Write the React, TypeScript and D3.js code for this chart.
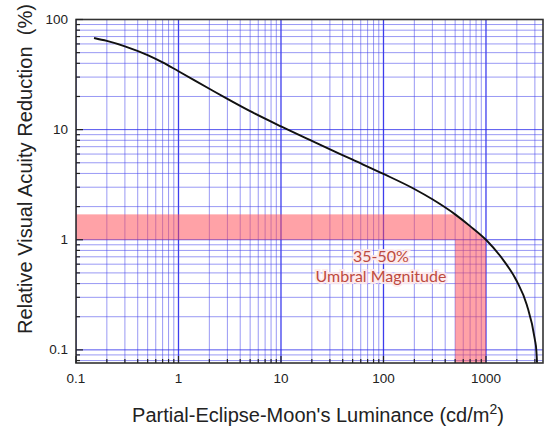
import React from "react";
import * as d3 from "d3";

const luminance = [0.15, 0.2, 0.3, 0.5, 0.7, 1, 2, 3, 5, 10, 20, 50, 100, 200, 300, 500, 700, 1000, 1500, 2000, 2500, 3000, 3100, 3150];
const reduction = [68, 63.9, 57.1, 47.5, 40.8, 33.9, 23.5, 19.0, 14.7, 10.7, 7.9, 5.33, 3.96, 2.89, 2.33, 1.70, 1.33, 1.0, 0.64, 0.42, 0.257, 0.124, 0.099, 0.076];
const xTickLabels = ["0.1", "1", "10", "100", "1000"];
const yTickLabels = ["0.1", "1", "10", "100"];
const xDomain = [0.1, 3600];
const yDomain = [0.076, 100];
const bandX = [500, 1000];
const bandY = [1, 1.7];
const annotation = ["35-50%", "Umbral Magnitude"];

const W = 550, H = 429;
const M = { left: 76, right: 543, top: 19.5, bottom: 363 };

export default function App() {
  const x = d3.scaleLog().domain(xDomain).range([M.left, M.right]);
  const y = d3.scaleLog().domain(yDomain).range([M.bottom, M.top]);

  const xGrid: number[] = [];
  for (let e = -1; e <= 3; e++) for (let k = 1; k <= 9; k++) {
    const v = k * Math.pow(10, e);
    if (v >= xDomain[0] - 1e-9 && v <= xDomain[1]) xGrid.push(+v.toPrecision(3));
  }
  const yGrid: number[] = [];
  for (let e = -2; e <= 2; e++) for (let k = 1; k <= 9; k++) {
    const v = k * Math.pow(10, e);
    if (v >= yDomain[0] && v <= yDomain[1] + 1e-9) yGrid.push(+v.toPrecision(3));
  }
  const isMajor = (v: number) => Math.abs(Math.log10(v) - Math.round(Math.log10(v))) < 1e-6;

  const pts = luminance.map((d, i) => [x(d), y(reduction[i])] as [number, number]);
  const line = d3.line().curve(d3.curveMonotoneX)(pts) || "";
  const under = d3.area().curve(d3.curveMonotoneX).y0(M.bottom + 2)(pts) || "";

  const bandFill = "rgba(255,70,80,0.5)";
  const lab = { fontFamily: "Liberation Sans, Arial, sans-serif", fill: "#222" };

  return (
    <svg width={W} height={H} style={{ position: "absolute", left: 0, top: 0, background: "#fff" }}>
      <defs>
        <clipPath id="under">
          <path d={under} />
          <rect x={M.left} y={M.top} width={pts[0][0] - M.left} height={M.bottom - M.top} />
        </clipPath>
        <clipPath id="plot">
          <rect x={M.left} y={M.top} width={M.right - M.left} height={M.bottom - M.top} />
        </clipPath>
      </defs>
      {/* grid */}
      <g clipPath="url(#plot)">
        {xGrid.map((v) => (
          <line key={"gx" + v} x1={x(v)} x2={x(v)} y1={M.top} y2={M.bottom}
            stroke={isMajor(v) ? "rgba(40,40,235,0.9)" : "rgba(70,70,235,0.55)"} strokeWidth={isMajor(v) ? 1.3 : 1} />
        ))}
        {yGrid.map((v) => (
          <line key={"gy" + v} y1={y(v)} y2={y(v)} x1={M.left} x2={M.right}
            stroke={isMajor(v) ? "rgba(40,40,235,0.8)" : "rgba(70,70,235,0.55)"} strokeWidth={1} />
        ))}
      </g>
      {/* band */}
      <g clipPath="url(#under)">
        <rect x={M.left} y={y(bandY[1])} width={x(bandX[1]) - M.left} height={y(bandY[0]) - y(bandY[1])} fill={bandFill} />
        <rect x={x(bandX[0])} y={y(bandY[0])} width={x(bandX[1]) - x(bandX[0])} height={M.bottom - y(bandY[0])} fill={bandFill} />
      </g>
      {/* annotation */}
      <g style={{ fontFamily: "Lato, Open Sans, sans-serif", fontSize: 16 }} fill="#bd4a40" textAnchor="middle">
        <text x={381} y={262} stroke="rgba(255,235,235,0.9)" strokeWidth={4} paintOrder="stroke">{annotation[0]}</text>
        <text x={381} y={282} stroke="rgba(255,235,235,0.9)" strokeWidth={4} paintOrder="stroke">{annotation[1]}</text>
      </g>
      {/* curve */}
      <path d={line} fill="none" stroke="#111" strokeWidth={1.9} clipPath="url(#plot)" />
      {/* frame */}
      <rect x={M.left} y={M.top} width={M.right - M.left} height={M.bottom - M.top} fill="none" stroke="#333" strokeWidth={1.6} />
      {/* ticks */}
      {xGrid.map((v) => (
        <line key={"tx" + v} x1={x(v)} x2={x(v)} y1={M.bottom} y2={M.bottom - (isMajor(v) ? 7 : 4)} stroke="#222" strokeWidth={1.2} />
      ))}
      {yGrid.map((v) => (
        <line key={"ty" + v} y1={y(v)} y2={y(v)} x1={M.left} x2={M.left + (isMajor(v) ? 7 : 4)} stroke="#222" strokeWidth={1.2} />
      ))}
      {/* tick labels */}
      {xTickLabels.map((t) => (
        <text key={"lx" + t} x={x(+t)} y={383} textAnchor="middle" style={{ ...lab, fontSize: 13.5 }} fill="#222">{t}</text>
      ))}
      {yTickLabels.map((t) => (
        <text key={"ly" + t} x={68} y={y(+t) + 4.5} textAnchor="end" style={{ ...lab, fontSize: 13.5 }} fill="#222">{t}</text>
      ))}
      {/* axis titles */}
      <text x={318} y={422} textAnchor="middle" style={{ ...lab, fontSize: 20 }} fill="#222">
        Partial-Eclipse-Moon's Luminance (cd/m<tspan dy={-8} fontSize={14}>2</tspan><tspan dy={8}>)</tspan>
      </text>
      <text transform={`translate(32,169) rotate(-90)`} textAnchor="middle" textLength={330} lengthAdjust="spacingAndGlyphs" style={{ ...lab, fontSize: 20 }} fill="#222">
        {"Relative Visual Acuity Reduction\u00a0\u00a0(%)"}
      </text>
    </svg>
  );
}
